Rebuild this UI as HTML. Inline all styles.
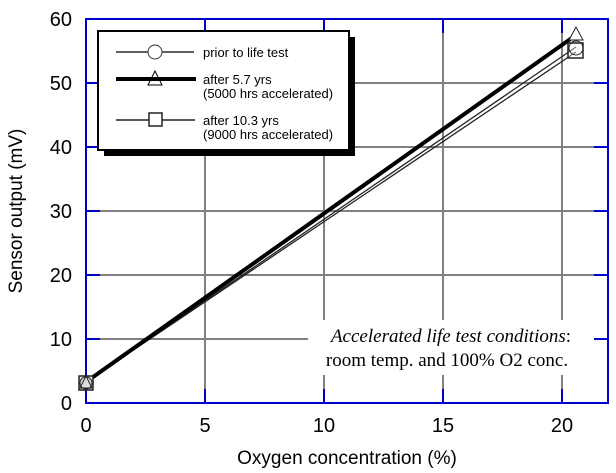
<!DOCTYPE html>
<html><head><meta charset="utf-8"><style>
html,body{margin:0;padding:0;background:#fff;}
svg{display:block;}
text{font-family:"Liberation Sans",sans-serif;fill:#000;}
</style></head><body>
<svg width="616" height="473" viewBox="0 0 616 473" xmlns="http://www.w3.org/2000/svg">
<g stroke="#808080" stroke-width="2">
<line x1="205" y1="19" x2="205" y2="403"/>
<line x1="324" y1="19" x2="324" y2="403"/>
<line x1="443" y1="19" x2="443" y2="403"/>
<line x1="562" y1="19" x2="562" y2="403"/>
<line x1="86" y1="83" x2="608" y2="83"/>
<line x1="86" y1="147" x2="608" y2="147"/>
<line x1="86" y1="211" x2="608" y2="211"/>
<line x1="86" y1="275" x2="608" y2="275"/>
<line x1="86" y1="339" x2="608" y2="339"/>
</g>
<g stroke="#0000cc" stroke-width="2">
<line x1="205" y1="19" x2="205" y2="33"/><line x1="205" y1="389" x2="205" y2="403"/>
<line x1="324" y1="19" x2="324" y2="33"/><line x1="324" y1="389" x2="324" y2="403"/>
<line x1="443" y1="19" x2="443" y2="33"/><line x1="443" y1="389" x2="443" y2="403"/>
<line x1="562" y1="19" x2="562" y2="33"/><line x1="562" y1="389" x2="562" y2="403"/>
<line x1="86" y1="83" x2="100" y2="83"/><line x1="594" y1="83" x2="608" y2="83"/>
<line x1="86" y1="147" x2="100" y2="147"/><line x1="594" y1="147" x2="608" y2="147"/>
<line x1="86" y1="211" x2="100" y2="211"/><line x1="594" y1="211" x2="608" y2="211"/>
<line x1="86" y1="275" x2="100" y2="275"/><line x1="594" y1="275" x2="608" y2="275"/>
<line x1="86" y1="339" x2="100" y2="339"/><line x1="594" y1="339" x2="608" y2="339"/>
</g>
<rect x="86" y="19" width="522" height="384" fill="none" stroke="#0000cc" stroke-width="2"/>
<rect x="308" y="320" width="286" height="55" fill="#fff"/>
<text x="451" y="342" text-anchor="middle" style="font-family:'Liberation Serif',serif;font-size:19px"><tspan font-style="italic">Accelerated life test conditions</tspan>:</text>
<text x="447" y="366" text-anchor="middle" style="font-family:'Liberation Serif',serif;font-size:19px">room temp. and 100% O2 conc.</text>
<line x1="86" y1="382" x2="576" y2="52" stroke="#222" stroke-width="1.3"/>
<line x1="86" y1="382" x2="576" y2="47" stroke="#222" stroke-width="1.3"/>
<line x1="86" y1="382" x2="576" y2="35" stroke="#000" stroke-width="4"/>
<rect x="568" y="43" width="15" height="15" fill="#fff" fill-opacity="0.4" stroke="#222" stroke-width="1.5"/>
<circle cx="576" cy="48" r="7" fill="none" stroke="#222" stroke-width="1"/>
<polygon points="576,27 569,40 583,40" fill="#fff" stroke="#222" stroke-width="1"/>
<rect x="79" y="376" width="14" height="14" fill="#ddd" stroke="#222" stroke-width="1.5"/>
<circle cx="86" cy="383" r="6" fill="none" stroke="#222" stroke-width="1"/>
<polygon points="86,376 80,388 92,388" fill="none" stroke="#222" stroke-width="1"/>
<rect x="104" y="37" width="251" height="119" fill="#000"/>
<rect x="98" y="31" width="251" height="119" fill="#fff" stroke="#000" stroke-width="2"/>
<line x1="116" y1="52" x2="194" y2="52" stroke="#000" stroke-width="1.3"/>
<circle cx="155" cy="52" r="7" fill="#fff" stroke="#333" stroke-width="1"/>
<line x1="116" y1="79" x2="196" y2="79" stroke="#000" stroke-width="4"/>
<polygon points="155,71 148,85 162,85" fill="none" stroke="#000" stroke-width="1"/>
<line x1="116" y1="120" x2="195" y2="120" stroke="#222" stroke-width="1.5"/>
<rect x="149" y="113" width="13" height="13" fill="#fff" stroke="#222" stroke-width="1.5"/>
<text x="203" y="57" font-size="13">prior to life test</text>
<text x="203" y="84" font-size="13">after 5.7 yrs</text>
<text x="203" y="98" font-size="13">(5000 hrs accelerated)</text>
<text x="203" y="125" font-size="13">after 10.3 yrs</text>
<text x="203" y="139" font-size="13">(9000 hrs accelerated)</text>
<g font-size="20" text-anchor="end">
<text x="72" y="26">60</text><text x="72" y="90">50</text><text x="72" y="154">40</text>
<text x="72" y="218">30</text><text x="72" y="282">20</text><text x="72" y="346">10</text>
<text x="72" y="410">0</text>
</g>
<g font-size="20" text-anchor="middle">
<text x="86" y="432">0</text><text x="205" y="432">5</text><text x="324" y="432">10</text>
<text x="443" y="432">15</text><text x="562" y="432">20</text>
</g>
<text x="347" y="464" font-size="19" text-anchor="middle">Oxygen concentration (%)</text>
<text transform="translate(22,211) rotate(-90)" font-size="19" text-anchor="middle">Sensor output (mV)</text>
</svg>
</body></html>
